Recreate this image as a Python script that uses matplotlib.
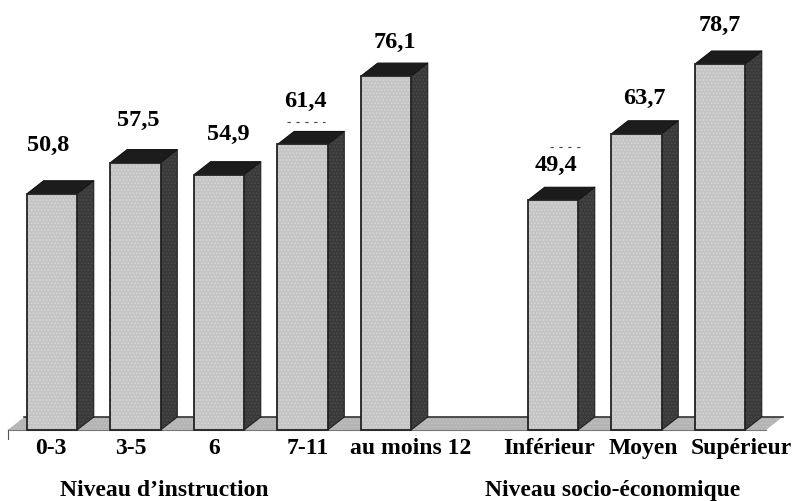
import numpy as np
from matplotlib import pyplot as plt

plt.rcParams['font.family'] = ['Liberation Serif', 'DejaVu Serif']
plt.rcParams['hatch.linewidth'] = 0.7

# values
categories = ["0-3", "3-5", "6", "7-11", "au moins 12", "Inférieur", "Moyen", "Supérieur"]
values = [50.8, 57.5, 54.9, 61.4, 76.1, 49.4, 63.7, 78.7]
value_labels = ["50,8", "57,5", "54,9", "61,4", "76,1", "49,4", "63,7", "78,7"]
positions = [0, 1, 2, 3, 4, 6, 7, 8]

# shift of the text from the bar centre, in category units / value units
label_shift = [-0.02, -0.06, -0.06, 0.06, 0.29, -0.05, 0.08, 0.25]
value_shift_x = [-0.05, 0.03, 0.11, 0.03, 0.11, 0.04, 0.09, 0.0]
value_shift_y = [7.9, 6.4, 6.0, 6.6, 4.6, 5.0, 5.1, 5.8]

bar_w = 0.6
dx = 0.2   # depth of the 3d effect
dy = 2.8

fig = plt.figure(figsize=(7.95, 5.02), dpi=100)
ax = fig.add_axes([0, 0, 1, 1])
# 83.5 px per category, 4.65 px per percent, zero at y=431
ax.set_xlim(-52 / 83.5, (795 - 52) / 83.5)
ax.set_ylim(-71 / 4.65, 431 / 4.65)
ax.axis("off")

# floor
x0 = -0.53
x1 = 8.55
ax.fill([x0, x1, x1 + dx, x0 + dx], [0, 0, dy, dy], facecolor="#b4b4b4", edgecolor="#c2c2c2",
        hatch=".....", lw=0, zorder=1)
ax.plot([x0 + dx, x1 + dx], [dy, dy], color="#333333", lw=1.2, zorder=1.5)
ax.plot([x0, x1], [0, 0], color="#777777", lw=0.8, zorder=1.5)
ax.plot([x0, x0], [0, -1.9], color="#555555", lw=0.8, zorder=1.5)

for p, v in zip(positions, values):
    left = p - bar_w / 2
    right = p + bar_w / 2
    # side
    ax.fill([right, right + dx, right + dx, right], [0, dy, v + dy, v],
            facecolor="#3a3a3a", edgecolor="#4c4c4c", hatch=".....", lw=0, zorder=2)
    ax.plot([right, right + dx, right + dx], [0, dy, v + dy], color="#222222", lw=0.8, zorder=2.1)
    # top
    ax.fill([left, right, right + dx, left + dx], [v, v, v + dy, v + dy],
            facecolor="#1c1c1c", edgecolor="#111111", lw=0.8, zorder=2.2)

# front faces
ax.bar(positions, values, width=bar_w, color="#c4c4c4", edgecolor="#d8d8d8",
       hatch=".....", linewidth=0, zorder=3)
ax.bar(positions, values, width=bar_w, fill=False, edgecolor="#222222", linewidth=1.3, zorder=3.1)

# bits of an older label left in the source picture
ax.plot([2.82, 3.27], [66.2, 66.2], color="#444444", lw=0.8, ls=(0, (3, 5)), zorder=4)
ax.plot([5.96, 6.36], [60.9, 60.9], color="#444444", lw=0.8, ls=(0, (3, 5)), zorder=4)

for p, v, txt, sx, sy in zip(positions, values, value_labels, value_shift_x, value_shift_y):
    ax.text(p + sx, v + dy + sy, txt, ha="center", va="center", fontsize=17.5, fontweight="bold", zorder=4)

for p, name, sx in zip(positions, categories, label_shift):
    ax.text(p + sx, -3.7, name, ha="center", va="center", fontsize=17, fontweight="bold", zorder=4)

ax.text(1.34, -12.9, "Niveau d’instruction", ha="center", va="center", fontsize=17, fontweight="bold")
ax.text(6.71, -12.9, "Niveau socio-économique", ha="center", va="center", fontsize=17, fontweight="bold")

fig.savefig("out.png", dpi=100)
